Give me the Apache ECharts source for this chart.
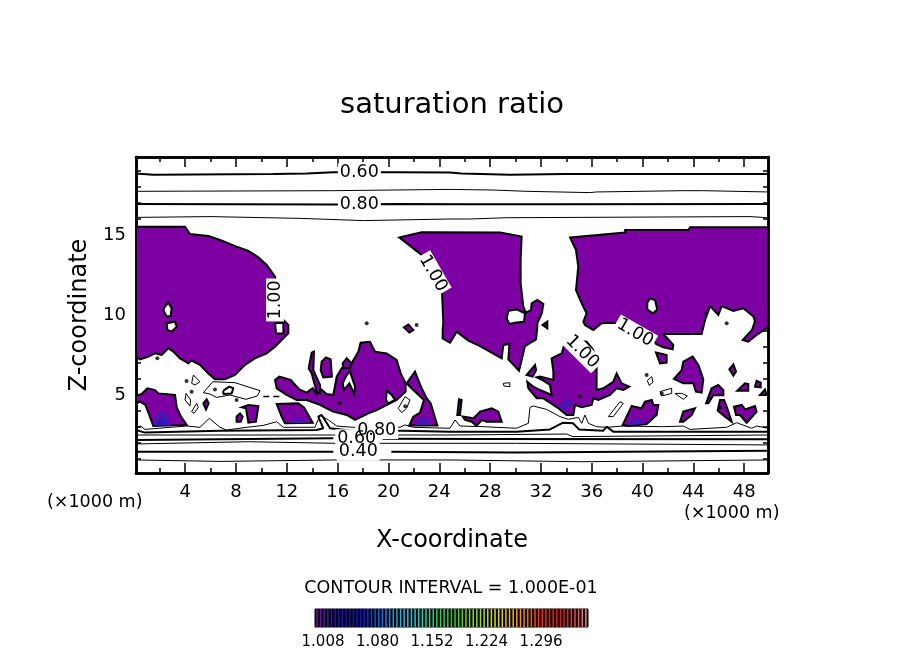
<!DOCTYPE html>
<html lang="en">
<head>
<meta charset="UTF-8">
<title>saturation ratio</title>
<style>body{margin:0;background:#fff}</style>
</head>
<body>
<div id="main" style="width:904px;height:654px;"></div>
<script src="https://cdn.jsdelivr.net/npm/echarts@6/dist/echarts.min.js"></script>
<script>
// tick values and labels
const xMajor = [4, 8, 12, 16, 20, 24, 28, 32, 36, 40, 44, 48];
const xMinor = [2, 6, 10, 14, 18, 22, 26, 30, 34, 38, 42, 46];
const zMajor = [5, 10, 15];
const zMinor = [1, 2, 3, 4, 6, 7, 8, 9, 11, 12, 13, 14, 16, 17, 18, 19];
const barLabels = [1.008, 1.080, 1.152, 1.224, 1.296];

// saturation ratio >= 1 regions, traced in km (x, z)
const regionA = [[0,15.52],[3.88,15.52],[4.27,15.06],[5.72,14.94],[6.65,14.69],[7.96,14.27],[8.89,14],[9.68,13.6],[10.34,13.13],[11,12.4],[11.13,11.77],[11.18,11.15],[11.34,10.1],[11.66,9.69],[12.05,9.38],[12.05,8.85],[11.79,8.65],[11,8.02],[10.34,7.6],[9.41,7.29],[8.62,6.88],[7.83,6.25],[7.04,5.98],[6.25,5.98],[5.72,6.35],[5.06,6.88],[4.4,7.15],[4.14,6.98],[3.48,7.29],[2.95,7.71],[2.56,7.92],[2.03,7.5],[1.5,7.6],[0.98,7.4],[0.32,7.23],[0,7.4]];
const regionB = [[20.83,14.85],[22.6,15.17],[28.8,15.15],[30.51,14.9],[30.43,13.44],[30.43,11.98],[30.64,10.52],[30.85,10.15],[31.25,10.31],[31.3,10.73],[31.75,10.94],[32.23,10.69],[32.1,10.1],[31.75,9.48],[31.75,9.27],[31.65,8.48],[30.77,8.06],[30.51,7.19],[30.3,6.52],[29.46,7.23],[29.54,8.19],[29.06,8.13],[28.93,7.29],[27.22,8.06],[26.29,8.4],[25.37,8.96],[25.05,8.54],[24.84,8.27],[24.26,8.54],[24.26,9.06],[24.31,9.48],[24.26,10.52],[24.18,11.98],[23.65,13.13],[22.6,13.75]];
const regionC = [[34.34,14.85],[38.7,15.15],[38.7,15.31],[43.7,15.31],[43.84,15.48],[50,15.48],[50,9.1],[49.9,9.17],[49.1,8.75],[48.44,8.33],[48,8.44],[48.73,9.06],[48.97,9.6],[48.85,9.9],[48.05,10.42],[47.26,10.25],[46.34,10.56],[46.07,10],[45.42,10.56],[45.02,9.69],[44.75,8.81],[41.72,8.81],[42.51,8.13],[42.46,7.85],[41.72,7.98],[41.14,8.19],[40.8,8.65],[40.27,9.06],[37.76,9.52],[36.84,9.48],[36.18,9.06],[35.52,9.38],[35.39,9.58],[35.65,10.1],[35.26,10.73],[34.81,11.56],[34.99,13.02],[34.81,14.06]];
const regionD = [[0,4.94],[0.45,5.06],[0.9,5.42],[1.5,5.31],[1.77,5.1],[3.09,5],[3.22,4.23],[3.53,3.69],[4.01,3.13],[1.37,3.06],[1.05,3.75],[0.74,4.38],[0.32,4.58],[0,4.48]];
const regionE = [[11,5.94],[11.34,6.15],[12.24,5.94],[12.92,5.35],[13.5,5.15],[13.98,5.42],[14.29,5.06],[14.56,5.42],[15.08,5.06],[15.61,5],[15.88,6.15],[16.27,6.67],[17.06,6.98],[17.59,7.71],[17.77,8.27],[18.51,8.33],[18.91,7.71],[19.83,7.6],[20.62,7.19],[20.94,6.35],[21.33,5.73],[21.33,5.21],[20.62,4.69],[19.04,4.06],[18.38,3.85],[17.33,3.44],[16.67,3.75],[15.61,3.96],[15.08,4.17],[14.56,4.38],[13.5,4.69],[12.71,4.69],[11.92,5],[11.13,5.42]];
const regionF = [[13.9,7.65],[14.08,7.71],[14.03,6.56],[14.56,5.63],[14.56,5.1],[14.29,5.2],[13.9,6.35],[13.66,6.67]];
const regionG = [[14.69,7.08],[15.03,7.35],[15.4,7.23],[15.5,6.15],[14.82,6.1],[14.61,6.56]];
const regionH = [[11.13,4.44],[12.84,4.48],[13.29,4.23],[13.98,3.27],[11.79,3.23],[11.52,3.65]];
const regionI = [[8.36,4.23],[8.89,4.38],[9.68,4.31],[9.49,3.33],[8.89,3.27],[8.7,4.17]];
const regionJ = [[7.96,3.65],[8.23,3.85],[8.44,3.65],[8.28,3.33],[7.96,3.33]];
const regionK = [[5.33,4.48],[5.59,4.73],[5.75,4.48],[5.54,4.1]];
const regionL = [[22.07,6.46],[22.6,5.42],[23,4.79],[23.31,4.48],[23.84,3.1],[21.62,3.1],[21.94,3.65],[22.47,3.9],[22.78,4.69],[21.94,5.31],[21.41,5.73]];
const regionM = [[21.2,9.23],[21.55,9.4],[21.94,9.06],[21.62,8.9]];
const regionN = [[33.94,8.33],[34.47,8.44],[35.65,8.33],[36.18,7.81],[36.44,6.98],[36.44,5.31],[36.97,5.42],[37.76,5.83],[38.03,6.35],[38.42,5.73],[39.03,5.52],[38.55,5.31],[38.03,5.42],[37.5,5],[36.58,4.69],[36.18,4.79],[36.05,4.38],[35.26,4.23],[34.73,4.38],[34.6,3.75],[34.07,3.75],[33.41,4.17],[32.23,4.79],[31.7,4.79],[31.04,5.42],[30.96,5.83],[31.43,5.52],[31.96,5.31],[32.88,5],[32.75,5.63],[32.23,5.9],[31.7,6.1],[31.96,6.15],[33.02,5.94],[33.02,6.46],[32.88,7.29],[33.68,7.6]];
const regionO = [[39.21,4.31],[40,4.17],[40.27,4.58],[40.8,4.69],[40.93,4.38],[41.32,4.38],[41.19,3.75],[40.4,3.19],[38.95,3.06],[38.5,3.13]];
const regionP = [[42.56,6],[43.17,6.56],[43.3,7.08],[44.04,7.4],[44.49,6.88],[44.88,5.98],[44.75,5.15],[44.3,5.21],[44.09,5.73],[43.3,5.73]];
const regionQ = [[41.14,7.65],[41.98,7.5],[41.98,7.02],[41.46,6.98]];
const regionR = [[45.1,4.48],[45.54,5.42],[46.07,5.63],[46.47,5.31],[46.47,4.98],[45.67,4.98],[45.28,4.48]];
const regionS = [[43.04,3.33],[43.3,3.96],[44.22,4.17],[43.96,3.75],[43.3,3.33]];
const regionT = [[25.84,3.65],[26.69,3.54],[27.22,3.96],[28.14,4.17],[28.67,3.96],[28.93,3.33],[27.74,3.33],[27.35,3.44],[26.95,3.06],[26.56,3.33],[26.03,3.44]];
const regionU = [[47.31,4.27],[47.92,4.38],[48.18,4.1],[48.97,4.31],[49.1,3.96],[48.31,3.27],[47.78,3.75],[47.47,3.75]];
const regionV = [[46.2,4.69],[46.52,4.69],[46.73,4.27],[47.13,3.33],[46.6,3.65],[46.02,4.02]];
const regionW = [[47.57,5.27],[48.18,5.73],[48.44,5.69],[48.44,5.27]];
const regionX = [[48.97,5.52],[49.1,5.88],[49.42,5.77],[49.42,5.48]];
const regionY = [[49.37,5],[49.76,5.35],[49.89,5]];
const regionZ = [[46.94,6.6],[47.26,6.92],[47.47,6.46],[47.26,6.21]];
const regionAA = [[25.42,3.75],[25.55,4.73],[25.76,4.69],[25.63,3.75]];
const regionAB = [[30.91,6.25],[31.57,6.88],[31.65,6.56],[31.38,6.15]];
const regionAC = [[16.35,6.98],[16.67,7.29],[17.06,6.98],[16.93,6.67],[16.4,6.67]];
const regionAD = [[32.17,9.38],[32.54,9.58],[32.54,9.17]];

// dry holes inside the regions
const holeA = [[2.29,10.52],[2.56,10.77],[2.82,10.42],[2.74,9.94],[2.43,9.9],[2.16,10.31]];
const holeB = [[2.43,9.48],[3.08,9.58],[3.22,9.27],[2.82,8.96],[2.48,9.06]];
const holeC = [[11,9.48],[11.66,9.52],[11.66,8.85],[11.08,8.85]];
const holeD = [[29.46,10.27],[30.12,10.35],[30.77,10.1],[30.7,9.58],[29.98,9.52],[29.54,9.44],[29.32,9.79]];
const holeE = [[40.66,11.04],[41.06,10.94],[41.24,10.35],[40.88,10.1],[40.45,10.35],[40.45,10.77]];
const holeF = [[16.67,6.25],[16.93,6.46],[17.33,5.52],[17.27,5.06],[16.88,5.73],[16.46,5.31],[16.35,5.73]];
const holeG = [[19.83,5.27],[20.23,5],[20.49,4.69],[19.96,4.48],[19.78,4.69]];

// higher ratio cores, no outline
const coreA = [[1.37,3.1],[1.53,3.65],[2.03,4.02],[2.61,3.6],[2.82,3.1]];
const coreB = [[12.2,3.25],[12.6,3.55],[13.1,3.55],[13.5,3.25]];
const coreC = [[22.1,3.12],[22.4,3.6],[22.9,3.6],[23.4,3.12]];
const coreD = [[33.41,4.27],[34.2,4.79],[34.65,4.48],[33.94,4.02]];
const coreE = [[38.9,3.1],[39.2,3.5],[40,3.5],[40.3,3.2]];
const coreInnerA = [[1.6,3.1],[1.75,3.4],[2.2,3.5],[2.5,3.1]];

// contours, named by level
const c03 = [[0,0.94],[6.65,0.85],[15.88,0.94],[24.84,0.94],[35.39,0.83],[50,0.94]];
const c04a = [[0,1.46],[15.61,1.46]];
const c04b = [[20.2,1.46],[30.1,1.4],[50,1.52]];
const c05 = [[0,1.94],[8.89,2.08],[15.88,1.98],[24.84,1.98],[30.1,1.98],[50,1.88]];
const c06a = [[0,2.19],[15.61,2.29]];
const c06b = [[19.5,2.27],[27.48,2.25],[50,2.23]];
const c07 = [[0,2.5],[15.61,2.5],[24.84,2.5],[34.07,2.56],[34.57,2.4],[50,2.5]];
const c08 = [[0,2.81],[0.71,2.65],[6.65,2.77],[14.29,2.81],[14.82,2.92],[14.42,3.65],[14.69,3.75],[15.35,2.92],[17.19,2.77],[21.15,2.77],[24.84,2.71],[30.1,2.71],[32.75,2.85],[33.79,3.27],[34.57,3.23],[35.05,2.85],[36.97,2.77],[37.24,3.02],[37.76,2.71],[50,2.71]];
const c09 = [[0,2.98],[0.37,3.06],[0.71,2.85],[2.69,2.98],[4.01,3.06],[5.06,2.98],[5.8,3.54],[6.65,2.98],[7.17,2.81],[8.76,2.98],[10.07,3.1],[11.13,3.33],[11.66,2.98],[14.16,2.98],[14.56,3.75],[15.22,3.44],[15.88,3.06],[17.19,2.98],[20.89,2.98],[21.28,3.13],[21.94,2.98],[24.84,2.92],[25.24,3.44],[25.63,3.06],[27.48,3.02],[30.1,2.92],[31.04,3.23],[31.17,4.23],[31.43,4.31],[32.49,4.1],[33.54,3.65],[34.2,3.48],[35,3.6],[35.26,3.23],[35.52,3.75],[35.79,3.23],[36.44,3.02],[37.24,2.98],[38.55,3.06],[41.72,3.02],[43.3,3.06],[43.83,2.85],[46.73,2.98],[47.52,3.27],[48.71,2.92],[49.1,3.06],[50,2.92]];
const topC06 = [[0,18.85],[1.37,18.77],[10.86,18.81],[13.5,18.85],[15.6,18.92],[20.6,18.92],[24.84,18.9],[25.76,18.85],[29.6,18.77],[33.95,18.81],[50,18.81]];
const topC07 = [[0,17.73],[15.6,17.77],[24.84,17.85],[28.27,17.81],[30.91,17.73],[35.9,17.65],[36.44,17.69],[43.3,17.77],[44.88,17.77],[50,17.69]];
const topC08 = [[0,16.94],[15.6,16.9],[20.6,16.94],[26.69,16.92],[33.28,16.92],[50,16.94]];
const topC09 = [[0,16.1],[5.85,16.15],[12.97,16.04],[17.99,15.9],[24.84,16],[26.42,16],[29.33,16.08],[48.57,16.15],[50,16.08]];
const loopA = [[5.33,5.15],[6.07,5.83],[7.83,5.77],[9.81,5.27],[9.6,4.94],[8.7,4.73],[7.44,5],[6.38,4.85],[5.85,5.06],[5.33,5.15]];
const loopC = [[4.4,5.73],[4.54,6.25],[5.06,5.83],[4.67,5.63],[4.4,5.73]];
const loopD = [[3.96,5.1],[4.32,4.69],[4.27,4.31],[3.88,4.69],[3.96,5.1]];
const loopE = [[4.4,3.96],[4.8,4.48],[4.93,4.23],[4.59,3.85],[4.4,3.96]];
const loopF = [[20.75,4.17],[21.28,4.9],[21.68,4.69],[21.41,4.17],[21.02,3.9],[20.75,4.17]];
const loopG = [[37.37,3.65],[38.29,4.58],[38.55,4.48],[37.76,3.65],[37.37,3.65]];
const loopH = [[41.46,5.21],[42.38,5.42],[42.38,5.1],[41.59,4.94],[41.46,5.21]];
const loopI = [[42.64,5.1],[43.17,5.1],[43.62,4.94],[43.3,4.73],[42.64,5.1]];
const loopJ = [[29.06,5.73],[29.58,5.77],[29.58,5.52],[29.11,5.56],[29.06,5.73]];
const loopK = [[40.45,5.9],[40.8,6.15],[40.9,5.8],[40.6,5.6],[40.45,5.9]];
const loopThick = [[6.91,5.27],[7.38,5.52],[7.7,5.42],[7.57,5.1],[6.91,5.06],[6.91,5.27]];
const dashedC = [[10.07,4.9],[11.39,4.9]];

// tiny closed contours, too small to trace
const specks = [[6.25,5.35],[7.96,4.69],[4.4,5.2],[4,5.87],[1.69,7.29],[18.25,9.48],[22.2,9.38],[35.13,4.9],[40.4,6.25],[46.73,9.48],[46.2,4.2],[41.6,5.1],[21.3,4.3],[16.1,4.5],[35.1,7.7],[45.1,10.1]];

// contour labels: text, x, z, rotation in degrees
const labelText = ['0.60', '0.80', '0.80', '0.60', '0.40', '1.00', '1.00', '1.00', '1.00'];
const labelX = [17.67, 17.67, 19.04, 17.46, 17.59, 23.5, 11, 39.48, 35.3];
const labelZ = [18.9, 16.93, 2.81, 2.29, 1.46, 12.6, 10.94, 8.88, 7.7];
const labelRot = [0, 0, 0, 0, 0, -60, 90, -30, -45];

// colour bar levels and colour stops
const barLevels = [1.0000,1.0048,1.0096,1.0144,1.0192,1.0240,1.0288,1.0336,1.0384,1.0432,
  1.0480,1.0528,1.0576,1.0624,1.0672,1.0720,1.0768,1.0816,1.0864,1.0912,
  1.0960,1.1008,1.1056,1.1104,1.1152,1.1200,1.1248,1.1296,1.1344,1.1392,
  1.1440,1.1488,1.1536,1.1584,1.1632,1.1680,1.1728,1.1776,1.1824,1.1872,
  1.1920,1.1968,1.2016,1.2064,1.2112,1.2160,1.2208,1.2256,1.2304,1.2352,
  1.2400,1.2448,1.2496,1.2544,1.2592,1.2640,1.2688,1.2736,1.2784,1.2832,
  1.2880,1.2928,1.2976,1.3024,1.3072,1.3120,1.3168,1.3216,1.3264,1.3312,
  1.3360,1.3408,1.3456,1.3504,1.3552];
const barStops = ['#7a10a8','#2010c0','#0a10e0','#1080f0','#18c8e8','#10e0a0','#20d020','#80e020','#d8e018','#ffa000','#ff3000','#f01010','#f08080'];

const purple = '#7d00a3';
const font = '"DejaVu Sans"';

function regionSeries(list, fill, stroke, z) {
    return {
        type: 'custom',
        clip: true,
        silent: true,
        animation: false,
        z: z,
        data: list.map(function (r, i) { return [i]; }),
        renderItem: function (params, api) {
            let points = list[params.dataIndex].map(function (p) { return api.coord(p); });
            return {
                type: 'polygon',
                shape: { points: points },
                style: { fill: fill, stroke: stroke, lineWidth: stroke ? 2 : 0 }
            };
        }
    };
}

function lineSeries(data, width, dashed) {
    return {
        type: 'line',
        data: data,
        showSymbol: false,
        symbol: 'none',
        silent: true,
        animation: false,
        z: 6,
        lineStyle: { color: '#000', width: width, type: dashed ? [6, 4] : 'solid' }
    };
}

// the white boxes go in a layer below all the digits, the close labels overlap
function labelSeries(boxed, z) {
    return {
        type: 'custom',
        silent: true,
        animation: false,
        z: z,
        data: labelText.map(function (t, i) { return [labelX[i], labelZ[i]]; }),
        renderItem: function (params, api) {
            let p = api.coord([api.value(0), api.value(1)]);
            return {
                type: 'text',
                x: p[0],
                y: p[1],
                rotation: labelRot[params.dataIndex] * Math.PI / 180,
                style: {
                    text: labelText[params.dataIndex],
                    font: '17.5px ' + font,
                    fill: boxed ? 'rgba(0,0,0,0)' : '#000',
                    align: 'center',
                    verticalAlign: 'middle',
                    backgroundColor: boxed ? '#fff' : 'transparent',
                    padding: [0, 2]
                }
            };
        }
    };
}

// one frame side: the labelled axis carries the major ticks, the others only ticks
function frameAxis(pos, min, max, ticks, len, extra) {
    return Object.assign({
        type: 'value',
        position: pos,
        min: min,
        max: max,
        splitLine: { show: false },
        axisLine: { show: true, onZero: false, lineStyle: { color: '#000', width: 2.5 } },
        axisTick: { show: true, inside: true, length: len, customValues: ticks, lineStyle: { color: '#000', width: 1.5 } },
        axisLabel: { show: false }
    }, extra || {});
}

const tickLabel = { show: true, color: '#000', fontFamily: font, fontSize: 18 };

let series = [
    regionSeries([regionA, regionB, regionC, regionD, regionE, regionF, regionG, regionH, regionI, regionJ, regionK, regionL, regionM, regionN, regionO, regionP, regionQ, regionR, regionS, regionT, regionU, regionV, regionW, regionX, regionY, regionZ, regionAA, regionAB, regionAC, regionAD], purple, '#000', 2),
    regionSeries([holeA, holeB, holeC, holeD, holeE, holeF, holeG], '#fff', '#000', 3),
    regionSeries([coreA, coreB, coreC, coreD, coreE], '#4a14b4', null, 4),
    regionSeries([coreInnerA], '#2a18bc', null, 5),
    lineSeries(c03, 1), lineSeries(c04a, 2), lineSeries(c04b, 2), lineSeries(c05, 1), lineSeries(c06a, 2), lineSeries(c06b, 2),
    lineSeries(c07, 1), lineSeries(c08, 2), lineSeries(c09, 1),
    lineSeries(topC06, 2), lineSeries(topC07, 1), lineSeries(topC08, 2), lineSeries(topC09, 1),
    lineSeries(loopA, 1), lineSeries(loopC, 1), lineSeries(loopD, 1), lineSeries(loopE, 1), lineSeries(loopF, 1),
    lineSeries(loopG, 1), lineSeries(loopH, 1), lineSeries(loopI, 1), lineSeries(loopJ, 1), lineSeries(loopK, 1),
    lineSeries(loopThick, 2), lineSeries(dashedC, 1.5, true),
    {
        type: 'scatter',
        data: specks,
        symbol: 'circle',
        symbolSize: 4,
        silent: true,
        animation: false,
        z: 6,
        itemStyle: { color: '#000' }
    },
    labelSeries(true, 7),
    labelSeries(false, 8),
    {
        type: 'bar',
        xAxisIndex: 5,
        yAxisIndex: 5,
        barWidth: 1.5,
        silent: true,
        animation: false,
        data: barLevels.map(function (v, i) {
            return {
                value: [v, 1],
                itemStyle: { color: echarts.color.lerp(i / (barLevels.length - 1), barStops) }
            };
        })
    }
];
// the traced lines and regions ride on the plain axis 0
series.forEach(function (s) {
    if (s.xAxisIndex === undefined) { s.xAxisIndex = 0; s.yAxisIndex = 0; }
});

let option = {
    backgroundColor: '#fff',
    animation: false,
    title: [
        { text: 'saturation ratio', left: 452, top: 91, padding: 0, textAlign: 'center', textStyle: { fontFamily: font, fontWeight: 'normal', fontSize: 29, color: '#000' } },
        { text: 'CONTOUR INTERVAL = 1.000E-01', left: 451, top: 579, padding: 0, textAlign: 'center', textStyle: { fontFamily: font, fontWeight: 'normal', fontSize: 17.5, color: '#000' } },
        { text: '(×1000 m)', left: 47, top: 493, padding: 0, textStyle: { fontFamily: font, fontWeight: 'normal', fontSize: 17.5, color: '#000' } },
        { text: '(×1000 m)', left: 684, top: 504, padding: 0, textStyle: { fontFamily: font, fontWeight: 'normal', fontSize: 17.5, color: '#000' } }
    ],
    grid: [
        { left: 136, top: 157, width: 632, height: 316 },
        { left: 315, top: 609, width: 273, height: 18, show: true, backgroundColor: '#000', borderColor: '#000', borderWidth: 1 }
    ],
    xAxis: [
        { type: 'value', min: 0, max: 50, show: false, gridIndex: 0 },
        frameAxis('bottom', 0.125, 49.875, xMajor, 10, {
            gridIndex: 0,
            name: 'X-coordinate',
            nameLocation: 'middle',
            nameGap: 56,
            nameTextStyle: { fontFamily: font, fontSize: 24, color: '#000' },
            axisLabel: Object.assign({ margin: 10, customValues: xMajor }, tickLabel)
        }),
        frameAxis('bottom', 0.125, 49.875, xMinor, 5, { gridIndex: 0 }),
        frameAxis('top', 0.125, 49.875, xMajor, 10, { gridIndex: 0 }),
        frameAxis('top', 0.125, 49.875, xMinor, 5, { gridIndex: 0 }),
        {
            type: 'value', gridIndex: 1, min: 0.9974, max: 1.358,
            splitLine: { show: false },
            axisLine: { show: false },
            axisTick: { show: false },
            axisLabel: Object.assign({ margin: 8, customValues: barLabels, formatter: function (v) { return v.toFixed(3); } }, tickLabel, { fontSize: 15 })
        }
    ],
    yAxis: [
        { type: 'value', min: 0.125, max: 19.875, show: false, gridIndex: 0 },
        frameAxis('left', 0.125, 19.875, zMajor, 9, {
            gridIndex: 0,
            name: 'Z-coordinate',
            nameLocation: 'middle',
            nameGap: 33,
            nameTextStyle: { fontFamily: font, fontSize: 24, color: '#000' },
            axisLabel: Object.assign({ margin: 10, padding: [4, 0, 0, 0], customValues: zMajor }, tickLabel)
        }),
        frameAxis('left', 0.125, 19.875, zMinor, 5, { gridIndex: 0 }),
        frameAxis('right', 0.125, 19.875, zMajor, 9, { gridIndex: 0 }),
        frameAxis('right', 0.125, 19.875, zMinor, 5, { gridIndex: 0 }),
        { type: 'value', gridIndex: 1, min: 0, max: 1, show: false }
    ],
    series: series
};

let chart = echarts.init(document.getElementById('main'));
chart.setOption(option);
</script>
</body>
</html>
